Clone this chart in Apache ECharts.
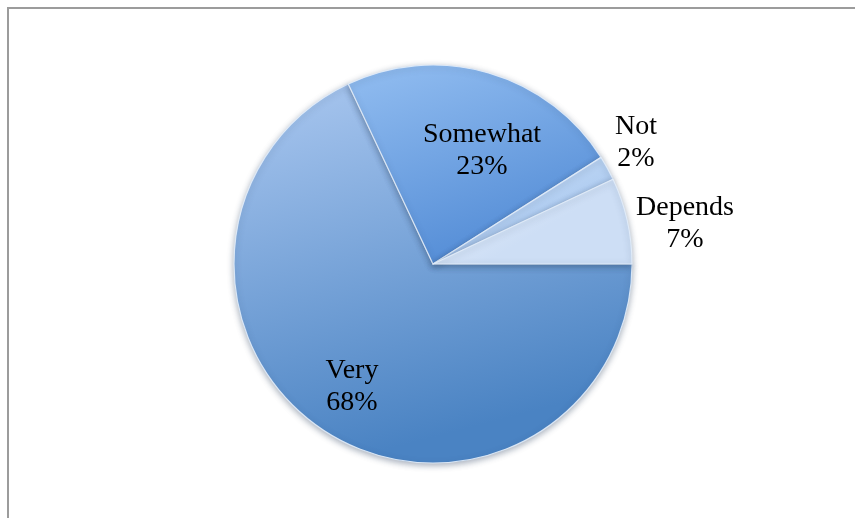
<!DOCTYPE html>
<html>
<head>
<meta charset="utf-8">
<script src="https://cdn.jsdelivr.net/npm/echarts@6/dist/echarts.min.js"></script>
<style>
  html, body { margin: 0; padding: 0; background: #ffffff; }
  #chart { width: 855px; height: 518px; }
</style>
</head>
<body>
<div id="chart"></div>
<script>
// Response categories and their shares (percent), clockwise from 3 o'clock
const categories = ['Very', 'Somewhat', 'Not', 'Depends'];
const shares = [68, 23, 2, 7];

// Slice fills: top colour, bottom colour
const sliceFills = {
  Very:     ['#abc8f0', '#4a83c3'],
  Somewhat: ['#93bef1', '#5890d8'],
  Not:      ['#cfe2f8', '#a9c8ef'],
  Depends:  ['#e8f0fb', '#cddef5']
};

// Label anchor points (block centre) for each slice
const labelSpots = {
  Very:     [352, 387],
  Somewhat: [482, 151],
  Not:      [636, 143],
  Depends:  [685, 224]
};

const chart = echarts.init(document.getElementById('chart'), null, { renderer: 'canvas' });

const pieData = categories.map((name, i) => ({
  name: name,
  value: shares[i],
  itemStyle: {
    color: new echarts.graphic.LinearGradient(0, 0, 0.25, 1, [
      { offset: 0, color: sliceFills[name][0] },
      { offset: 1, color: sliceFills[name][1] }
    ])
  }
}));

chart.setOption({
  animation: false,
  backgroundColor: '#ffffff',
  graphic: [{
    type: 'rect',
    shape: { x: 8, y: 8, width: 900, height: 600 },
    style: { fill: 'none', stroke: '#9c9c9c', lineWidth: 2 },
    silent: true
  }],
  series: [{
    type: 'pie',
    center: [433, 264],
    radius: [0, 199],
    startAngle: 0,
    clockwise: true,
    data: pieData,
    itemStyle: {
      borderColor: 'rgba(225,236,250,0.9)',
      borderWidth: 1.2,
      shadowBlur: 6,
      shadowOffsetY: 2,
      shadowColor: 'rgba(40,60,90,0.4)'
    },
    label: {
      show: true,
      position: 'inside',
      formatter: '{b}\n{c}%',
      fontFamily: '"Liberation Serif", "DejaVu Serif", serif',
      fontSize: 28,
      lineHeight: 32,
      color: '#000000',
      align: 'center'
    },
    labelLine: { show: false },
    labelLayout: function (params) {
      const name = categories[params.dataIndex];
      const spot = labelSpots[name];
      return {
        x: spot[0],
        y: spot[1],
        align: 'center',
        verticalAlign: 'middle'
      };
    },
    emphasis: { disabled: true }
  }]
});
</script>
</body>
</html>
